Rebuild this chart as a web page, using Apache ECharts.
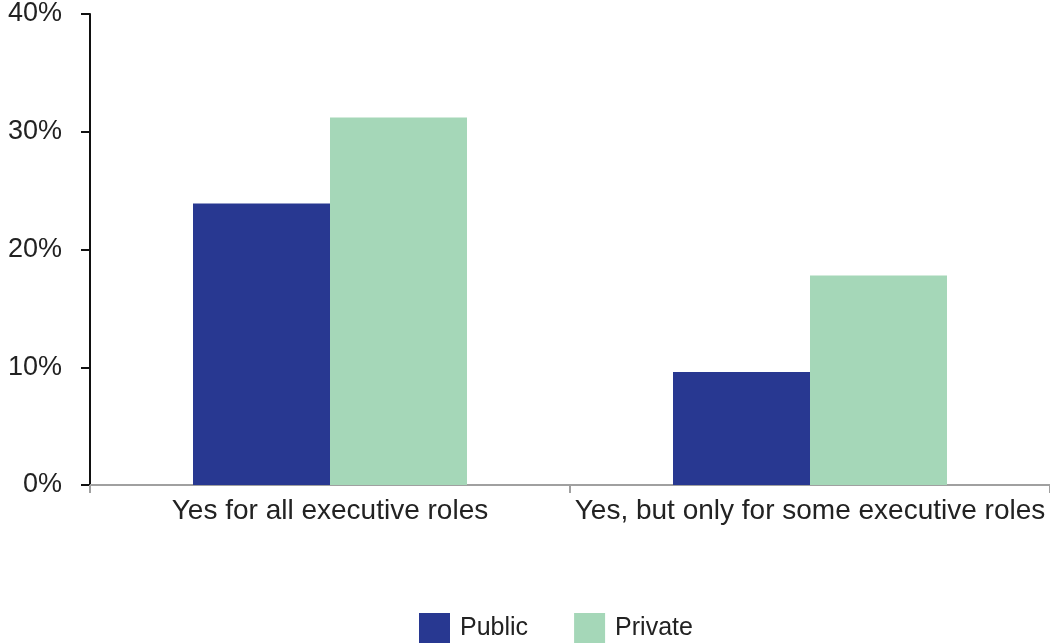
<!DOCTYPE html>
<html>
<head>
<meta charset="utf-8">
<script src="https://cdn.jsdelivr.net/npm/echarts@6/dist/echarts.min.js"></script>
<style>html,body{margin:0;padding:0;background:#fff}#c{width:1050px;height:643px}</style>
</head>
<body>
<div id="c"></div>
<script>
const categories = ["Yes for all executive roles", "Yes, but only for some executive roles"];
const publicValues = [23.9, 9.6];
const privateValues = [31.2, 17.8];
const seriesNames = ["Public", "Private"];

const chart = echarts.init(document.getElementById('c'));
const font = "'Liberation Sans', Arial, sans-serif";
chart.setOption({
  animation: false,
  textStyle: { fontFamily: font },
  grid: { left: 90, right: -2, top: 14, bottom: 158, containLabel: false },
  legend: {
    top: 613, left: 419, padding: 0,
    itemWidth: 31, itemHeight: 30, itemGap: 46,
    icon: 'rect',
    textStyle: { fontSize: 25, color: '#222', fontFamily: font, padding: [0, 0, 0, 5] },
    data: seriesNames
  },
  xAxis: {
    type: 'category', data: categories,
    axisLine: { lineStyle: { color: '#a0a0a0', width: 2 } },
    axisTick: { show: true, length: 8, lineStyle: { color: '#a0a0a0', width: 2 } },
    axisLabel: { fontSize: 28, color: '#222', margin: 12, interval: 0, fontFamily: font }
  },
  yAxis: {
    type: 'value', min: 0, max: 40, interval: 10,
    axisLine: { show: true, lineStyle: { color: '#111', width: 2 } },
    axisTick: { show: true, length: 9, lineStyle: { color: '#111', width: 2 } },
    splitLine: { show: false },
    axisLabel: { fontSize: 27, color: '#222', margin: 28, formatter: '{value}%', fontFamily: font }
  },
  series: [
    { name: seriesNames[0], type: 'bar', data: publicValues, barWidth: 137, barGap: '0%', itemStyle: { color: '#283891' } },
    { name: seriesNames[1], type: 'bar', data: privateValues, barWidth: 137, barGap: '0%', itemStyle: { color: '#a5d7b8' } }
  ]
});
</script>
</body>
</html>
